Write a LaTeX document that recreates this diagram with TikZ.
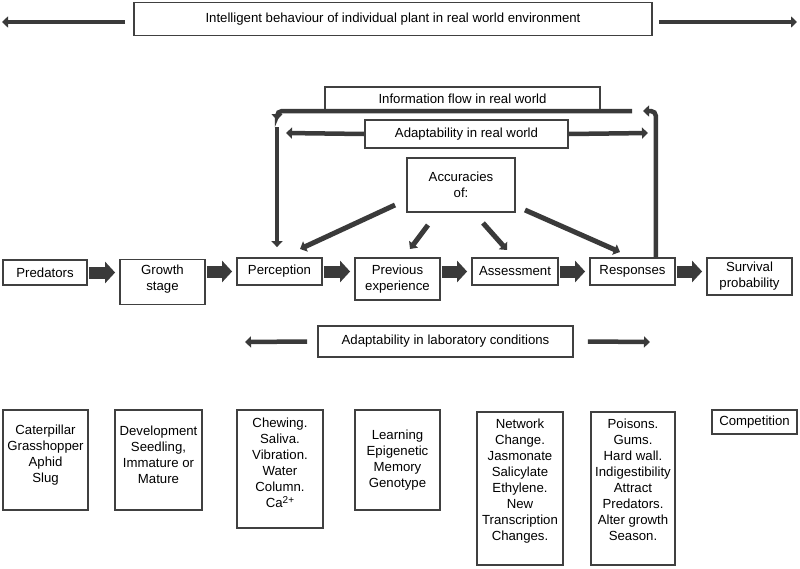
\documentclass[tikz,border=0pt]{standalone}
\usepackage{fontspec}
\setmainfont{Liberation Sans}
\usetikzlibrary{arrows.meta,calc}
\definecolor{ln}{HTML}{3A3A3A}
\definecolor{bd}{HTML}{404040}
\begin{document}
\begin{tikzpicture}[x=1pt,y=-1pt,
  pbox/.style={draw=bd,line width=1.8pt,inner sep=1pt,align=center,font=\fontsize{13.2}{16}\selectfont},
  flow/.style={draw=ln,line width=4.5pt,-{Triangle[length=6pt,width=11pt]}},
  bigarrow/.style={draw=ln,line width=12pt,-{Triangle[length=10pt,width=21pt]},shorten <=1pt,shorten >=4pt},
  ]
\useasboundingbox (0,0) rectangle (800,568);

% top
\node[pbox,minimum width=518pt,minimum height=33pt] (top) at (393,19) {Intelligent behaviour of individual plant in real world environment};
\coordinate (topL) at (2,22);
\coordinate (topR) at (797,22);
\draw[flow] ([xshift=-8pt,yshift=-3pt]top.west) -- (topL);
\draw[flow] ([xshift=6pt,yshift=-3pt]top.east) -- (topR);

% information flow
\node[pbox,minimum width=275pt,minimum height=24pt] (info) at (462.5,99) {Information flow in real world};
\coordinate (infoR) at (632,111);
\coordinate (infoL) at (277,120);
\coordinate (fbEnd) at (643,111);
\coordinate (percIn) at (277,127);

% adaptability real world
\node[pbox,minimum width=203pt,minimum height=28pt] (adapt) at (466.5,134) {Adaptability in real world};
\coordinate (adL) at (286,133);
\coordinate (adR) at (648,133);
\draw[flow] (adapt.west) -- (adL);
\draw[flow] (adapt.east) -- (adR);

% accuracies
\node[pbox,minimum width=108pt,minimum height=54pt] (acc) at (461,185) {Accuracies\\of:};

% main row
\node[pbox,minimum width=84pt,minimum height=25pt] (pred) at (45,272.5) {Predators};
\node[pbox,minimum width=85pt,minimum height=45pt,text depth=9pt] (growth) at (162.5,282) {Growth\\stage};
\node[pbox,minimum width=85pt,minimum height=27pt] (perc) at (279.5,271.5) {Perception};
\node[pbox,minimum width=85pt,minimum height=42pt] (prev) at (397.5,279) {Previous\\experience};
\node[pbox,minimum width=86pt,minimum height=27pt] (assess) at (515,271.5) {Assessment};
\node[pbox,minimum width=85pt,minimum height=27pt] (resp) at (632.5,271.5) {Responses};
\node[pbox,minimum width=85pt,minimum height=37pt] (surv) at (749.5,276.5) {Survival\\probability};

\draw[bigarrow] (pred.east) -- (pred.east -| growth.west);
\draw[bigarrow] (perc.west -| growth.east) -- (perc.west);
\draw[bigarrow] (perc.east) -- (perc.east -| prev.west);
\draw[bigarrow] (assess.west -| prev.east) -- (assess.west);
\draw[bigarrow] (assess.east) -- (assess.east -| resp.west);
\draw[bigarrow] (resp.east) -- (resp.east -| surv.west);

% information flow lines
\draw[flow,rounded corners=5pt] ($(resp.north east)+(-20,0)$) |- (fbEnd);
\draw[flow,rounded corners=5pt] (infoR) -| (infoL);
\draw[flow,shorten >=10pt] (percIn) -- (percIn |- perc.north);

% accuracies arrows
\coordinate (d1s) at (395,205); \coordinate (d1e) at (300,249);
\coordinate (d2s) at (428,225); \coordinate (d2e) at (410,249);
\coordinate (d3s) at (483,223); \coordinate (d3e) at (507,250);
\coordinate (d4s) at (525,210); \coordinate (d4e) at (620,252);
\draw[flow,line width=5pt] (d1s) -- (d1e);
\draw[flow,line width=5pt] (d2s) -- (d2e);
\draw[flow,line width=5pt] (d3s) -- (d3e);
\draw[flow,line width=5pt] (d4s) -- (d4e);

% laboratory
\node[pbox,minimum width=255pt,minimum height=31pt] (lab) at (445.5,341.5) {Adaptability in laboratory conditions};
\coordinate (labL) at (245,342);
\coordinate (labR) at (650,342);
\draw[flow] ([xshift=-10pt]lab.west) -- (labL);
\draw[flow] ([xshift=14pt]lab.east) -- (labR);

% bottom boxes
\node[pbox,minimum width=85pt,minimum height=100pt,text depth=12pt] (cat) at (45.5,460) {Caterpillar\\Grasshopper\\Aphid\\Slug};
\node[pbox,minimum width=87pt,minimum height=100pt,text depth=11pt] (dev) at (158.5,460) {Development\\Seedling,\\Immature or\\Mature};
\node[pbox,minimum width=86pt,minimum height=118pt,text depth=12pt] (chew) at (280,469) {Chewing.\\Saliva.\\Vibration.\\Water\\Column.\\Ca\raisebox{4pt}{\fontsize{10}{10}\selectfont 2+}};
\node[pbox,minimum width=85pt,minimum height=100pt] (learn) at (397.5,460) {Learning\\Epigenetic\\Memory\\Genotype};
\node[pbox,minimum width=86pt,minimum height=153pt,text depth=17pt] (net) at (520,488.5) {Network\\Change.\\Jasmonate\\Salicylate\\Ethylene.\\New\\Transcription\\Changes.};
\node[pbox,minimum width=84pt,minimum height=153pt,text depth=18pt] (pois) at (633,488.5) {Poisons.\\Gums.\\Hard wall.\\Indigestibility\\Attract\\Predators.\\Alter growth\\Season.};
\node[pbox,minimum width=85pt,minimum height=24pt] (comp) at (754.5,422) {Competition};
\end{tikzpicture}
\end{document}
